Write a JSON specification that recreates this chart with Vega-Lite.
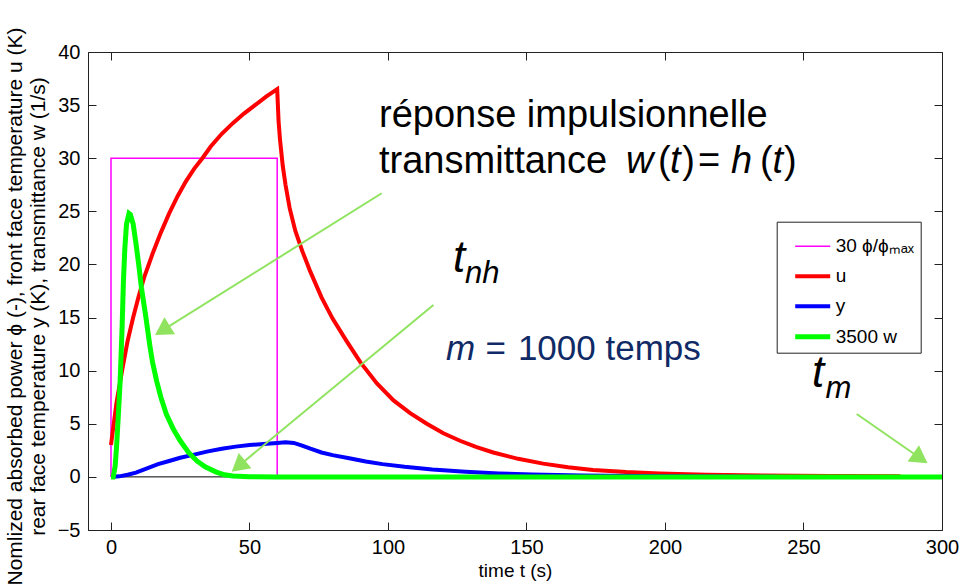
{
  "$schema": "https://vega.github.io/schema/vega-lite/v6.json",
  "width": 854,
  "height": 478,
  "autosize": "none",
  "padding": {"left": 88, "top": 52, "right": 25, "bottom": 58},
  "background": "white",
  "config": {
    "view": {"stroke": "#222", "strokeWidth": 1},
    "axis": {
      "grid": false,
      "domainColor": "#222",
      "tickColor": "#222",
      "labelColor": "#000",
      "titleColor": "#000",
      "titleFontWeight": "normal",
      "labelFont": "Liberation Sans",
      "labelFontSize": 20,
      "tickSize": -8,
      "labelOverlap": false,
      "labelFlush": false
    }
  },
  "datasets": {
    "zero": [{"t": 0, "v": 0}, {"t": 300, "v": 0}],
    "curves": [
      {"s": "30 ϕ/ϕₘₐₓ", "t": 0, "v": 0},
      {"s": "30 ϕ/ϕₘₐₓ", "t": 0, "v": 30},
      {"s": "30 ϕ/ϕₘₐₓ", "t": 60, "v": 30},
      {"s": "30 ϕ/ϕₘₐₓ", "t": 60, "v": 0},
      {"s": "30 ϕ/ϕₘₐₓ", "t": 300, "v": 0},
      {"s": "u", "t": 0, "v": 3.0},
      {"s": "u", "t": 1, "v": 5.0},
      {"s": "u", "t": 2, "v": 7.0},
      {"s": "u", "t": 4, "v": 10.0},
      {"s": "u", "t": 6, "v": 12.8},
      {"s": "u", "t": 8, "v": 15.0},
      {"s": "u", "t": 10, "v": 17.0},
      {"s": "u", "t": 12, "v": 18.8},
      {"s": "u", "t": 15, "v": 21.0},
      {"s": "u", "t": 18, "v": 23.0},
      {"s": "u", "t": 21, "v": 24.8},
      {"s": "u", "t": 24, "v": 26.4},
      {"s": "u", "t": 27, "v": 27.8},
      {"s": "u", "t": 30, "v": 29.0},
      {"s": "u", "t": 33, "v": 30.0},
      {"s": "u", "t": 36, "v": 31.1},
      {"s": "u", "t": 40, "v": 32.3},
      {"s": "u", "t": 44, "v": 33.3},
      {"s": "u", "t": 48, "v": 34.2},
      {"s": "u", "t": 52, "v": 35.0},
      {"s": "u", "t": 56, "v": 35.8},
      {"s": "u", "t": 60, "v": 36.5},
      {"s": "u", "t": 60.5, "v": 33.5},
      {"s": "u", "t": 61, "v": 31.8},
      {"s": "u", "t": 62, "v": 29.3},
      {"s": "u", "t": 63, "v": 27.5},
      {"s": "u", "t": 64.5, "v": 25.3},
      {"s": "u", "t": 66.5, "v": 23.2},
      {"s": "u", "t": 69, "v": 21.3},
      {"s": "u", "t": 72, "v": 19.3},
      {"s": "u", "t": 76, "v": 16.9},
      {"s": "u", "t": 80, "v": 14.9},
      {"s": "u", "t": 85, "v": 12.8},
      {"s": "u", "t": 90, "v": 10.8},
      {"s": "u", "t": 96, "v": 8.8},
      {"s": "u", "t": 102, "v": 7.2},
      {"s": "u", "t": 108, "v": 6.0},
      {"s": "u", "t": 114, "v": 5.0},
      {"s": "u", "t": 120, "v": 4.1},
      {"s": "u", "t": 126, "v": 3.4},
      {"s": "u", "t": 132, "v": 2.8},
      {"s": "u", "t": 138, "v": 2.3},
      {"s": "u", "t": 147, "v": 1.7},
      {"s": "u", "t": 156, "v": 1.25},
      {"s": "u", "t": 165, "v": 0.9},
      {"s": "u", "t": 174, "v": 0.65},
      {"s": "u", "t": 186, "v": 0.45},
      {"s": "u", "t": 198, "v": 0.32},
      {"s": "u", "t": 215, "v": 0.2},
      {"s": "u", "t": 235, "v": 0.13},
      {"s": "u", "t": 260, "v": 0.08},
      {"s": "u", "t": 285, "v": 0.05},
      {"s": "y", "t": 0, "v": 0},
      {"s": "y", "t": 3, "v": 0.05},
      {"s": "y", "t": 6, "v": 0.2},
      {"s": "y", "t": 9, "v": 0.4},
      {"s": "y", "t": 13, "v": 0.8},
      {"s": "y", "t": 17, "v": 1.2},
      {"s": "y", "t": 21, "v": 1.5},
      {"s": "y", "t": 25, "v": 1.8},
      {"s": "y", "t": 30, "v": 2.1},
      {"s": "y", "t": 35, "v": 2.4},
      {"s": "y", "t": 40, "v": 2.65},
      {"s": "y", "t": 45, "v": 2.85},
      {"s": "y", "t": 50, "v": 3.0},
      {"s": "y", "t": 55, "v": 3.1},
      {"s": "y", "t": 60, "v": 3.2},
      {"s": "y", "t": 63, "v": 3.25},
      {"s": "y", "t": 66, "v": 3.2},
      {"s": "y", "t": 69, "v": 2.95},
      {"s": "y", "t": 72, "v": 2.65},
      {"s": "y", "t": 76, "v": 2.3},
      {"s": "y", "t": 80, "v": 2.05},
      {"s": "y", "t": 86, "v": 1.75},
      {"s": "y", "t": 92, "v": 1.45},
      {"s": "y", "t": 98, "v": 1.2},
      {"s": "y", "t": 106, "v": 0.95},
      {"s": "y", "t": 116, "v": 0.7},
      {"s": "y", "t": 128, "v": 0.48},
      {"s": "y", "t": 140, "v": 0.32},
      {"s": "y", "t": 152, "v": 0.22},
      {"s": "y", "t": 170, "v": 0.12},
      {"s": "y", "t": 200, "v": 0.05},
      {"s": "y", "t": 240, "v": 0.02},
      {"s": "3500 w", "t": 0, "v": 0},
      {"s": "3500 w", "t": 0.8, "v": 0},
      {"s": "3500 w", "t": 1.5, "v": 1.0},
      {"s": "3500 w", "t": 2, "v": 2.8},
      {"s": "3500 w", "t": 2.7, "v": 6.0},
      {"s": "3500 w", "t": 3.3, "v": 9.0},
      {"s": "3500 w", "t": 4, "v": 14.0},
      {"s": "3500 w", "t": 4.5, "v": 18.5},
      {"s": "3500 w", "t": 5, "v": 21.5},
      {"s": "3500 w", "t": 5.6, "v": 23.8},
      {"s": "3500 w", "t": 6.5, "v": 24.8},
      {"s": "3500 w", "t": 7, "v": 24.7},
      {"s": "3500 w", "t": 8, "v": 23.8},
      {"s": "3500 w", "t": 9, "v": 22.0},
      {"s": "3500 w", "t": 10, "v": 20.0},
      {"s": "3500 w", "t": 11, "v": 17.8},
      {"s": "3500 w", "t": 12.5, "v": 15.2},
      {"s": "3500 w", "t": 14, "v": 12.4},
      {"s": "3500 w", "t": 15, "v": 10.8},
      {"s": "3500 w", "t": 16.5, "v": 9.0},
      {"s": "3500 w", "t": 18, "v": 7.5},
      {"s": "3500 w", "t": 20, "v": 5.9},
      {"s": "3500 w", "t": 22.5, "v": 4.5},
      {"s": "3500 w", "t": 25, "v": 3.4},
      {"s": "3500 w", "t": 28, "v": 2.3},
      {"s": "3500 w", "t": 31, "v": 1.5},
      {"s": "3500 w", "t": 34, "v": 0.95},
      {"s": "3500 w", "t": 38, "v": 0.45},
      {"s": "3500 w", "t": 41, "v": 0.2},
      {"s": "3500 w", "t": 44, "v": 0.08},
      {"s": "3500 w", "t": 50, "v": 0.02},
      {"s": "3500 w", "t": 60, "v": 0},
      {"s": "3500 w", "t": 300, "v": 0}
    ],
    "notes": [
      {"label": "réponse impulsionnelle", "t": 96.75, "v": 32.94, "k": "n"},
      {"label": "transmittance", "t": 96.75, "v": 28.61, "k": "n"},
      {"label": "w", "t": 185.9, "v": 28.61, "k": "i"},
      {"label": "(", "t": 197.5, "v": 28.61, "k": "n"},
      {"label": "t", "t": 201.8, "v": 28.61, "k": "i"},
      {"label": ")", "t": 206.2, "v": 28.61, "k": "n"},
      {"label": "=", "t": 211.9, "v": 28.61, "k": "n"},
      {"label": "h", "t": 223.8, "v": 28.61, "k": "i"},
      {"label": "(", "t": 234.3, "v": 28.61, "k": "n"},
      {"label": "t", "t": 238.8, "v": 28.61, "k": "i"},
      {"label": ")", "t": 243.0, "v": 28.61, "k": "n"},
      {"label": "t", "t": 123.5, "v": 19.29, "k": "T"},
      {"label": "nh", "t": 127.8, "v": 18.25, "k": "S"},
      {"label": "t", "t": 253.1, "v": 8.46, "k": "T"},
      {"label": "m", "t": 257.9, "v": 7.43, "k": "S"},
      {"label": "m", "t": 120.9, "v": 11.0, "k": "Bi"},
      {"label": "=", "t": 135.2, "v": 11.0, "k": "B"},
      {"label": "1000 temps", "t": 146.9, "v": 11.0, "k": "B"}
    ],
    "arrows": [
      {"t": 97.73, "v": 26.70, "t2": 18.56, "v2": 13.79, "ang": 238},
      {"t": 116.4, "v": 16.18, "t2": 46.0, "v2": 1.01, "ang": 230.4},
      {"t": 269.2, "v": 5.92, "t2": 292.2, "v2": 1.75, "ang": 124.8}
    ]
  },
  "layer": [
    {
      "data": {"name": "zero"},
      "mark": {"type": "line", "color": "#000", "strokeWidth": 1},
      "encoding": {
        "x": {"field": "t", "type": "quantitative", "scale": {"domain": [-8.3, 300], "nice": false, "zero": false},
              "axis": {"orient": "top", "values": [0, 50, 100, 150, 200, 250, 300], "labels": false, "title": null, "domain": false}},
        "y": {"field": "v", "type": "quantitative", "scale": {"domain": [-5, 40], "nice": false, "zero": false},
              "axis": {"orient": "right", "values": [-5, 0, 5, 10, 15, 20, 25, 30, 35, 40], "labels": false, "title": null, "domain": false}}
      }
    },
    {
      "data": {"name": "curves"},
      "mark": {"type": "line"},
      "encoding": {
        "x": {"field": "t", "type": "quantitative", "scale": {"domain": [-8.3, 300], "nice": false, "zero": false},
              "axis": {"orient": "bottom", "values": [0, 50, 100, 150, 200, 250, 300], "title": "time t (s)",
                       "labelPadding": 15, "titleFont": "Liberation Sans", "titleFontSize": 19,
                       "titleY": 46, "titleBaseline": "alphabetic"}},
        "y": {"field": "v", "type": "quantitative", "scale": {"domain": [-5, 40], "nice": false, "zero": false},
              "axis": {"orient": "left", "values": [-5, 0, 5, 10, 15, 20, 25, 30, 35, 40],
                       "title": ["Nomlized absorbed power ϕ (-), front face temperature u (K)", "rear face temperature y (K), transmittance w (1/s)"],
                       "labelPadding": 16, "titleFont": "Liberation Sans", "titleFontSize": 21, "titleLineHeight": 23,
                       "titleX": -67, "titleY": 254, "titleAngle": -90, "titleBaseline": "alphabetic", "titleAlign": "center"}},
        "color": {"field": "s", "type": "nominal",
                  "scale": {"domain": ["30 ϕ/ϕₘₐₓ", "u", "y", "3500 w"], "range": ["#ff00ff", "#ff0000", "#0000ff", "#00ff00"]},
                  "legend": {"title": null, "orient": "none", "legendX": 688.7, "legendY": 169.7, "padding": 6,
                             "strokeColor": "#222", "fillColor": "#fff", "labelFont": "Liberation Sans",
                             "labelFontSize": 19, "symbolSize": 1225, "symbolOffset": 10, "rowPadding": -2, "labelOffset": 3, "labelLimit": 200}},
        "strokeWidth": {"field": "s", "type": "nominal",
                  "scale": {"type": "ordinal", "domain": ["30 ϕ/ϕₘₐₓ", "u", "y", "3500 w"], "range": [1.5, 4, 4, 5]},
                  "legend": {"title": null, "orient": "none", "legendX": 688.7, "legendY": 169.7, "padding": 6,
                             "strokeColor": "#222", "fillColor": "#fff", "labelFont": "Liberation Sans",
                             "labelFontSize": 19, "symbolSize": 1225, "symbolOffset": 10, "rowPadding": -2, "labelOffset": 3, "labelLimit": 200}}
      }
    },
    {
      "data": {"name": "arrows"},
      "mark": {"type": "rule", "color": "#8fe35f", "strokeWidth": 2},
      "encoding": {
        "x": {"field": "t", "type": "quantitative", "scale": {"domain": [-8.3, 300], "nice": false, "zero": false}, "axis": null},
        "y": {"field": "v", "type": "quantitative", "scale": {"domain": [-5, 40], "nice": false, "zero": false}, "axis": null},
        "x2": {"field": "t2"},
        "y2": {"field": "v2"}
      }
    },
    {
      "data": {"name": "arrows"},
      "mark": {"type": "point", "shape": "triangle-up", "filled": true, "color": "#8fe35f", "opacity": 1, "size": 400},
      "encoding": {
        "x": {"field": "t2", "type": "quantitative", "scale": {"domain": [-8.3, 300], "nice": false, "zero": false}, "axis": null},
        "y": {"field": "v2", "type": "quantitative", "scale": {"domain": [-5, 40], "nice": false, "zero": false}, "axis": null},
        "angle": {"field": "ang", "type": "quantitative", "scale": null}
      }
    },
    {
      "data": {"name": "notes"},
      "transform": [{"filter": "datum.k === 'n'"}],
      "mark": {"type": "text", "align": "left", "baseline": "alphabetic", "font": "Liberation Sans", "fontSize": 38, "color": "#000"},
      "encoding": {
        "x": {"field": "t", "type": "quantitative", "scale": {"domain": [-8.3, 300], "nice": false, "zero": false}, "axis": null},
        "y": {"field": "v", "type": "quantitative", "scale": {"domain": [-5, 40], "nice": false, "zero": false}, "axis": null},
        "text": {"field": "label"}
      }
    },
    {
      "data": {"name": "notes"},
      "transform": [{"filter": "datum.k === 'i'"}],
      "mark": {"type": "text", "align": "left", "baseline": "alphabetic", "font": "Liberation Sans", "fontStyle": "italic", "fontSize": 38, "color": "#000"},
      "encoding": {
        "x": {"field": "t", "type": "quantitative", "scale": {"domain": [-8.3, 300], "nice": false, "zero": false}, "axis": null},
        "y": {"field": "v", "type": "quantitative", "scale": {"domain": [-5, 40], "nice": false, "zero": false}, "axis": null},
        "text": {"field": "label"}
      }
    },
    {
      "data": {"name": "notes"},
      "transform": [{"filter": "datum.k === 'T'"}],
      "mark": {"type": "text", "align": "left", "baseline": "alphabetic", "font": "Liberation Sans", "fontStyle": "italic", "fontSize": 44, "color": "#000"},
      "encoding": {
        "x": {"field": "t", "type": "quantitative", "scale": {"domain": [-8.3, 300], "nice": false, "zero": false}, "axis": null},
        "y": {"field": "v", "type": "quantitative", "scale": {"domain": [-5, 40], "nice": false, "zero": false}, "axis": null},
        "text": {"field": "label"}
      }
    },
    {
      "data": {"name": "notes"},
      "transform": [{"filter": "datum.k === 'S'"}],
      "mark": {"type": "text", "align": "left", "baseline": "alphabetic", "font": "Liberation Sans", "fontStyle": "italic", "fontSize": 31, "color": "#000"},
      "encoding": {
        "x": {"field": "t", "type": "quantitative", "scale": {"domain": [-8.3, 300], "nice": false, "zero": false}, "axis": null},
        "y": {"field": "v", "type": "quantitative", "scale": {"domain": [-5, 40], "nice": false, "zero": false}, "axis": null},
        "text": {"field": "label"}
      }
    },
    {
      "data": {"name": "notes"},
      "transform": [{"filter": "datum.k === 'B'"}],
      "mark": {"type": "text", "align": "left", "baseline": "alphabetic", "font": "Liberation Sans", "fontSize": 35, "color": "#102a66"},
      "encoding": {
        "x": {"field": "t", "type": "quantitative", "scale": {"domain": [-8.3, 300], "nice": false, "zero": false}, "axis": null},
        "y": {"field": "v", "type": "quantitative", "scale": {"domain": [-5, 40], "nice": false, "zero": false}, "axis": null},
        "text": {"field": "label"}
      }
    },
    {
      "data": {"name": "notes"},
      "transform": [{"filter": "datum.k === 'Bi'"}],
      "mark": {"type": "text", "align": "left", "baseline": "alphabetic", "font": "Liberation Sans", "fontStyle": "italic", "fontSize": 35, "color": "#102a66"},
      "encoding": {
        "x": {"field": "t", "type": "quantitative", "scale": {"domain": [-8.3, 300], "nice": false, "zero": false}, "axis": null},
        "y": {"field": "v", "type": "quantitative", "scale": {"domain": [-5, 40], "nice": false, "zero": false}, "axis": null},
        "text": {"field": "label"}
      }
    }
  ],
  "resolve": {"axis": {"x": "independent", "y": "independent"}}
}
